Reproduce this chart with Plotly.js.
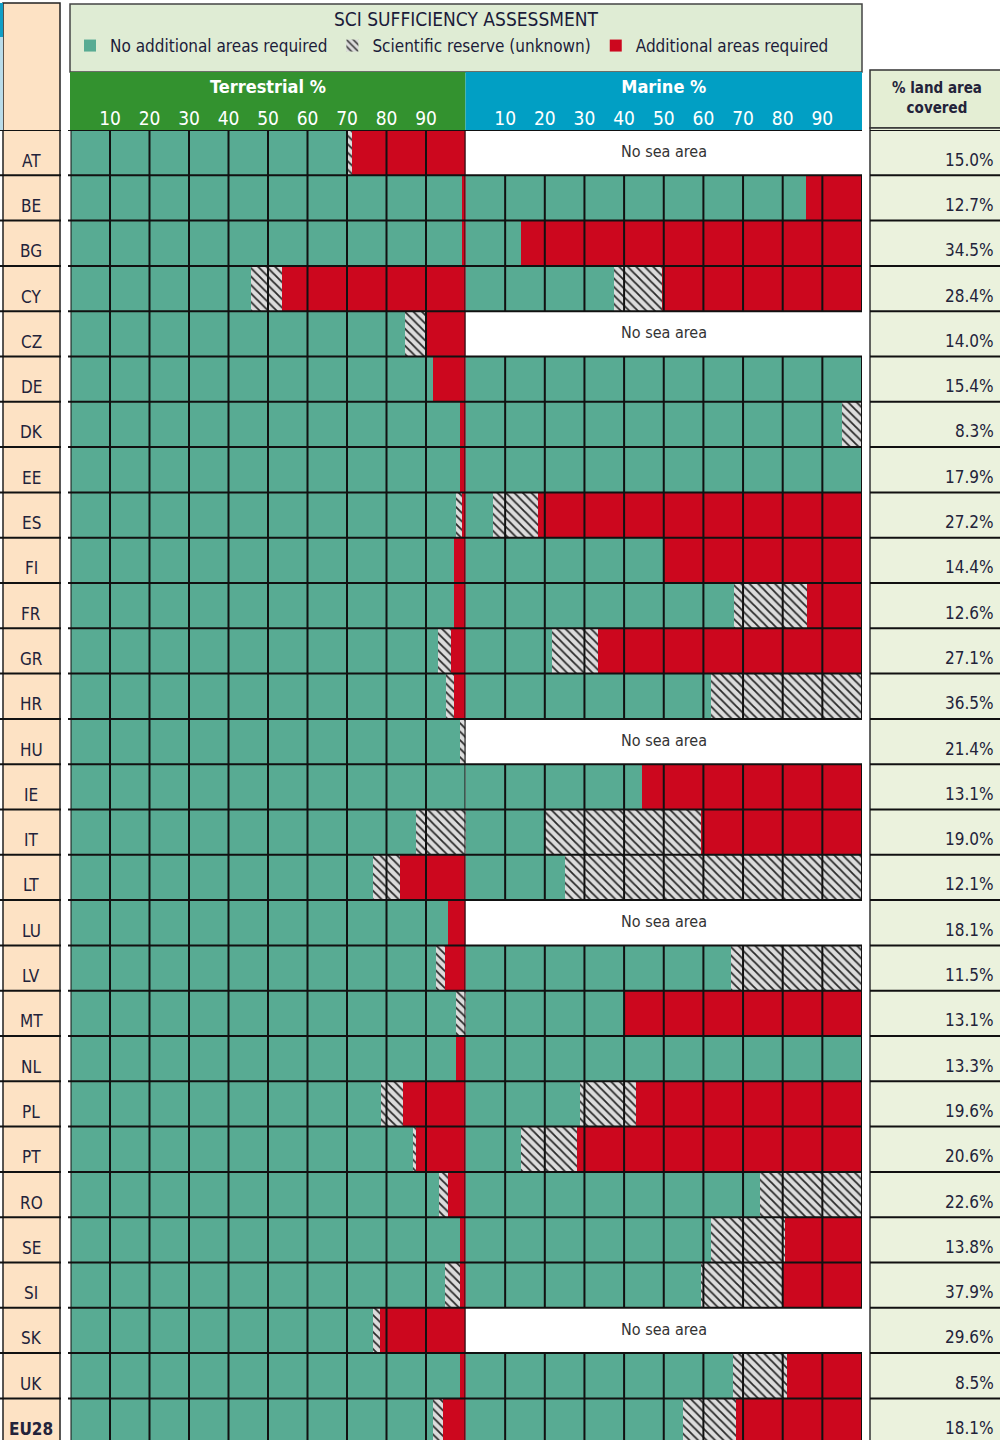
<!DOCTYPE html>
<html>
<head>
<meta charset="utf-8">
<script src="https://cdn.plot.ly/plotly-3.0.1.min.js"></script>
<style>html,body{margin:0;padding:0;background:#fff;}#chart{width:1000px;height:1440px;}</style>
</head>
<body>
<div id="chart"></div>
<script>
// ---------- DATA ----------
const countries = ['AT','BE','BG','CY','CZ','DE','DK','EE','ES','FI','FR','GR','HR','HU','IE','IT','LT','LU','LV','MT','NL','PL','PT','RO','SE','SI','SK','UK','EU28'];

// Terrestrial % : no additional areas / scientific reserve / additional areas required
const terrNone = [69.8,99.0,99.0,45.6,84.6,91.7,98.5,98.5,97.6,97.2,97.2,93.0,95.1,98.5,100,87.5,76.6,95.5,92.6,97.6,97.6,78.7,86.7,93.4,98.5,94.7,76.6,98.5,91.7];
const terrSci  = [1.5,0,0,8.0,5.2,0,0,0,1.4,0,0,3.4,2.1,1.5,0,12.5,6.7,0,2.1,2.4,0,5.4,0.8,2.1,0,3.8,1.7,0,2.6];
const terrAdd  = [28.7,1.0,1.0,46.4,10.2,8.3,1.5,1.5,1.0,2.8,2.8,3.6,2.8,0,0,0,16.7,4.5,5.3,0,2.4,15.9,12.5,4.5,1.5,1.5,21.7,1.5,5.7];

// Marine % (null = no sea area)
const marNone = [null,85.8,14.1,37.5,null,100,94.9,100,7.0,50,67.8,21.7,61.8,null,44.5,19.8,25.0,null,66.9,40,100,28.9,13.9,74.2,61.8,59.4,null,67.4,54.9];
const marSci  = [null,0,0,12.0,null,0,5.1,0,11.2,0,18.3,11.7,38.2,null,0,39.6,75.0,null,33.1,0,0,14.0,14.1,25.8,18.7,20.3,null,13.6,13.2];
const marAdd  = [null,14.2,85.9,50.5,null,0,0,0,81.8,50,13.9,66.6,0,null,55.5,40.6,0,null,0,60,0,57.1,72.0,0,19.5,20.3,null,19.0,31.9];

const noSeaCountries = ['AT','CZ','HU','LU','SK'];

// % land area covered
const landArea = [15.0,12.7,34.5,28.4,14.0,15.4,8.3,17.9,27.2,14.4,12.6,27.1,36.5,21.4,13.1,19.0,12.1,18.1,11.5,13.1,13.3,19.6,20.6,22.6,13.8,37.9,29.6,8.5,18.1];

const tickVals = [10,20,30,40,50,60,70,80,90];

// ---------- STYLE ----------
const W = 1000, H = 1440;
const GREEN = '#58ab93', RED = '#cc071e', HATCH_BG = '#dcdcdc', HATCH_FG = '#2a2a2a';
const FONT = '"DejaVu Sans Condensed","Liberation Sans Narrow","DejaVu Sans",sans-serif';
const TXT = '#23233a';
const plotTopPx = 130;
const yDomTop = 1 - plotTopPx / H;
const rowPx = 45.3;
const nRows = countries.length;
const yBottom = (nRows - 0.5) - ((plotTopPx + nRows * rowPx) - H) / rowPx;
const yIdx = countries.map((c, i) => i);
const px = v => v / W;          // x pixel -> paper
const py = v => 1 - v / H;      // y pixel -> paper

const hatchPattern = {shape: '\\', bgcolor: HATCH_BG, fgcolor: HATCH_FG, size: 6, solidity: 0.3};

function barTrace(vals, name, color, xa, showLeg, pattern) {
  const t = {
    type: 'bar', orientation: 'h', x: vals, y: yIdx, name: name,
    xaxis: xa, yaxis: 'y', showlegend: showLeg,
    marker: {color: color, line: {width: 0}},
    hoverinfo: 'skip'
  };
  if (pattern) t.marker.pattern = pattern;
  return t;
}

const noSeaVals = countries.map(c => noSeaCountries.includes(c) ? 100 : null);

const traces = [
  barTrace(terrNone, 'No additional areas required', GREEN, 'x', true),
  barTrace(terrSci, 'Scientific reserve (unknown)', HATCH_BG, 'x', true, hatchPattern),
  barTrace(terrAdd, 'Additional areas required', RED, 'x', true),
  barTrace(marNone, 'No additional areas required', GREEN, 'x2', false),
  barTrace(marSci, 'Scientific reserve (unknown)', HATCH_BG, 'x2', false, hatchPattern),
  barTrace(marAdd, 'Additional areas required', RED, 'x2', false),
  {type: 'bar', orientation: 'h', x: noSeaVals, y: yIdx, xaxis: 'x2', yaxis: 'y', showlegend: false,
   marker: {color: '#ffffff', line: {color: '#9a9a9a', width: 1}}, hoverinfo: 'skip'}
];

// ---------- SHAPES ----------
const shapes = [];
function rectPx(x0, y0, x1, y1, fill, lineColor, lw, layer) {
  shapes.push({type: 'rect', xref: 'paper', yref: 'paper', x0: px(x0), x1: px(x1), y0: py(y1), y1: py(y0),
    fillcolor: fill, line: {color: lineColor || 'rgba(0,0,0,0)', width: lw || 0}, layer: layer || 'below'});
}
// left column (country labels)
rectPx(3, 3, 60, H + 5, '#fde2c4', '#222', 1.5);
rectPx(0, 3, 3, 37, '#119fc6', null, 0);
rectPx(0, 37, 3, 130, '#b9dcea', null, 0);
// legend / title box
rectPx(70, 4, 862, 72, '#dfecd4', '#444', 1.5);
// headers
rectPx(70, 72, 465.5, 130, '#33922f', null, 0);
rectPx(465.5, 72, 862, 130, '#019fc4', null, 0);
// right column
rectPx(870, 70, 1003, 128, '#e4eed4', '#333', 1.5);
rectPx(870, 128, 1003, H + 5, '#ebf2dd', '#333', 1.5);

// horizontal row separators
const lineStyle = {color: '#111', width: 2};
for (let i = -1; i < nRows - 1; i++) {
  const yv = i + 0.5;
  [[0, 61], [68, 862], [870, 1000]].forEach(([a, b]) => {
    shapes.push({type: 'line', xref: 'paper', yref: 'y', x0: px(a), x1: px(b), y0: yv, y1: yv,
      line: {color: '#111', width: 2}, layer: 'above'});
  });
}
// terrestrial vertical grid lines
[0].concat(tickVals).concat([100]).forEach(v => {
  shapes.push({type: 'line', xref: 'x', yref: 'paper', x0: v, x1: v, y0: 0, y1: yDomTop,
    line: lineStyle, layer: 'above'});
});
// marine vertical grid lines (skip no-sea rows)
tickVals.concat([100]).forEach(v => {
  let path = '';
  countries.forEach((c, i) => {
    if (!noSeaCountries.includes(c)) path += `M${v},${i - 0.5}L${v},${i + 0.5}`;
  });
  shapes.push({type: 'path', xref: 'x2', yref: 'y', path: path, line: lineStyle, layer: 'above'});
});

// ---------- ANNOTATIONS ----------
const annotations = [];
countries.forEach((c, i) => {
  annotations.push({xref: 'paper', yref: 'y', x: px(31), y: i, yshift: -8, text: c === 'EU28' ? '<b>' + c + '</b>' : c,
    showarrow: false, xanchor: 'center', yanchor: 'middle', font: {family: FONT, size: 17, color: TXT}});
  annotations.push({xref: 'paper', yref: 'y', x: px(996), y: i, yshift: -7, text: landArea[i].toFixed(1) + '%',
    showarrow: false, xanchor: 'right', yanchor: 'middle', font: {family: FONT, size: 17, color: TXT}});
  if (noSeaCountries.includes(c)) {
    annotations.push({xref: 'x2', yref: 'y', x: 50, y: i, yshift: 1, text: 'No sea area',
      showarrow: false, xanchor: 'center', yanchor: 'middle', font: {family: FONT, size: 16, color: '#333'}});
  }
});
annotations.push({xref: 'paper', yref: 'paper', x: px(937), y: py(98), text: '<b>% land area<br>covered</b>',
  showarrow: false, xanchor: 'center', yanchor: 'middle', font: {family: FONT, size: 15, color: TXT}});

const xCommon = {
  range: [0, 100], side: 'top', tickmode: 'array', tickvals: tickVals, ticks: '', ticklen: 0,
  showgrid: false, zeroline: false, showline: false, fixedrange: true, automargin: false,
  tickfont: {family: FONT, size: 19, color: '#ffffff'}, anchor: 'y'
};

const layout = {
  width: W, height: H,
  margin: {l: 0, r: 0, t: 0, b: 0, pad: 0},
  paper_bgcolor: '#ffffff', plot_bgcolor: 'rgba(0,0,0,0)',
  barmode: 'stack', bargap: 0,
  hovermode: false,
  font: {family: FONT, color: TXT},
  title: {text: 'SCI SUFFICIENCY ASSESSMENT', x: px(466), xanchor: 'center', y: py(19), yanchor: 'middle',
    xref: 'paper', yref: 'container', font: {family: FONT, size: 19, color: '#1c1c3a'}},
  xaxis: Object.assign({}, xCommon, {domain: [px(70.5), px(465.5)],
    title: {text: '<b>Terrestrial %</b>', standoff: 8, font: {family: FONT, size: 18, color: '#ffffff'}}}),
  xaxis2: Object.assign({}, xCommon, {domain: [px(465.5), px(862)],
    title: {text: '<b>Marine %</b>', standoff: 8, font: {family: FONT, size: 18, color: '#ffffff'}}}),
  yaxis: {domain: [0, yDomTop], range: [yBottom, -0.5], showticklabels: false, ticks: '',
    showgrid: false, zeroline: false, showline: false, fixedrange: true},
  legend: {orientation: 'h', x: px(70), xanchor: 'left', y: py(46), yanchor: 'middle',
    bgcolor: 'rgba(0,0,0,0)', font: {family: FONT, size: 17, color: '#1c1c3a'}, traceorder: 'normal',
    itemclick: false, itemdoubleclick: false},
  shapes: shapes,
  annotations: annotations
};

Plotly.newPlot('chart', traces, layout, {staticPlot: true, displayModeBar: false});
</script>
</body>
</html>
